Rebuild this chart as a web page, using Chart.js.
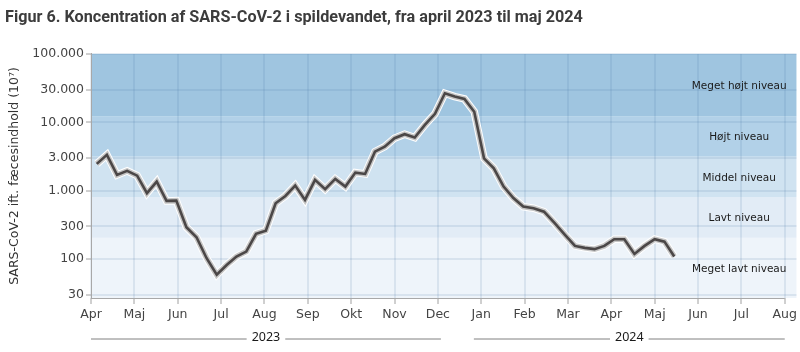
<!DOCTYPE html>
<html><head><meta charset="utf-8">
<script src="https://cdn.jsdelivr.net/npm/chart.js@4/dist/chart.umd.min.js"></script>
<style>html,body{margin:0;padding:0;background:#fff;}#wrap{width:800px;height:352px;}</style>
</head><body><div id="wrap"><canvas id="c" width="800" height="352"></canvas></div>
<script>
const chartTitle = 'Figur 6. Koncentration af SARS-CoV-2 i spildevandet, fra april 2023 til maj 2024';
const yAxisTitle = 'SARS-CoV-2 ift. fæcesindhold (10⁷)';
const monthLabels = ['Apr','Maj','Jun','Jul','Aug','Sep','Okt','Nov','Dec','Jan','Feb','Mar','Apr','Maj','Jun','Jul','Aug'];
const yearLabels = ['2023','2024'];
const yTickValues = [30,100,300,1000,3000,10000,30000,100000];
const yTickLabels = ['30','100','300','1.000','3.000','10.000','30.000','100.000'];
const levelNames = ['Meget lavt niveau','Lavt niveau','Middel niveau','Højt niveau','Meget højt niveau'];
const levelBounds = [27,205,810,3150,12300,100000];
const sampleDates = ['2023-04-05','2023-04-12','2023-04-19','2023-04-26','2023-05-03','2023-05-10','2023-05-17','2023-05-24','2023-05-31',
 '2023-06-07','2023-06-14','2023-06-21','2023-06-28','2023-07-05','2023-07-12','2023-07-19','2023-07-26',
 '2023-08-02','2023-08-09','2023-08-16','2023-08-23','2023-08-30','2023-09-06','2023-09-13','2023-09-20','2023-09-27',
 '2023-10-04','2023-10-11','2023-10-18','2023-10-25','2023-11-01','2023-11-08','2023-11-15','2023-11-22','2023-11-29',
 '2023-12-06','2023-12-13','2023-12-20','2023-12-27','2024-01-03','2024-01-10','2024-01-17','2024-01-24','2024-01-31',
 '2024-02-07','2024-02-14','2024-02-21','2024-02-28','2024-03-06','2024-03-13','2024-03-20','2024-03-27',
 '2024-04-03','2024-04-10','2024-04-17','2024-04-24','2024-05-01','2024-05-08','2024-05-15'];
const concentration = [2470,3340,1700,1950,1660,920,1360,710,716,292,209,103,59,82,109,129,234,261,656,839,
 1190,733,1440,1050,1490,1150,1840,1760,3730,4410,5860,6700,5980,9160,13300,26600,23800,22000,14300,2970,
 2130,1150,780,586,555,494,338,226,156,146,140,156,195,195,119,156,196,180,109];

function monthPos(iso){
  const [y,m,d] = iso.split('-').map(Number);
  const dim = new Date(y, m, 0).getDate();
  return (y-2023)*12 + (m-4) + (d-1)/dim;
}
const points = sampleDates.map((d,i)=>({x:monthPos(d), y:concentration[i]}));

const FONT = '"DejaVu Sans", sans-serif';
const bandColors = ['#eef4fa','#e2ecf6','#d0e3f1','#b2d1e8','#9fc5e0'];

const bandsPlugin = {
  id:'bands',
  beforeDraw(chart){
    const {ctx, chartArea:{left,right,top,bottom}, scales:{y}} = chart;
    ctx.save();
    for(let i=0;i<levelNames.length;i++){
      const yt = Math.max(top, y.getPixelForValue(levelBounds[i+1]));
      const yb = i===0 ? bottom : Math.min(bottom, y.getPixelForValue(levelBounds[i]));
      ctx.fillStyle = bandColors[i];
      ctx.fillRect(left, yt, right-left, yb-yt);
    }
    ctx.restore();
  },
  afterDraw(chart){
    const {ctx, chartArea:{top,bottom}, scales:{x,y}} = chart;
    ctx.save();
    ctx.font = '10.5px ' + FONT;
    ctx.fillStyle = '#1a1a1a';
    ctx.textAlign = 'center';
    ctx.textBaseline = 'middle';
    const cx = x.getPixelForValue(14.95);
    for(let i=0;i<levelNames.length;i++){
      const yt = Math.max(top, y.getPixelForValue(levelBounds[i+1]));
      const yb = i===0 ? bottom : y.getPixelForValue(levelBounds[i]);
      ctx.fillText(levelNames[i], cx, (yt+yb)/2 + 1);
    }
    ctx.strokeStyle = '#a8a8a8';
    ctx.lineWidth = 1;
    ctx.beginPath();
    ctx.moveTo(x.getPixelForValue(0), bottom+0.5);
    ctx.lineTo(x.getPixelForValue(16), bottom+0.5);
    ctx.stroke();
    const spans = [[0,8.07],[8.83,16]];
    const yy = chart.height - 14.5;
    ctx.font = '12.5px "Noto Sans", sans-serif';
    ctx.fillStyle = '#1a1a1a';
    ctx.strokeStyle = '#808080';
    spans.forEach((s,k)=>{
      const x1 = x.getPixelForValue(s[0]), x2 = x.getPixelForValue(s[1]);
      const c = (x1+x2)/2;
      const tw = ctx.measureText(yearLabels[k]).width;
      ctx.beginPath();
      ctx.moveTo(x1, yy+1.5); ctx.lineTo(c - tw/2 - 5, yy+1.5);
      ctx.moveTo(c + tw/2 + 5, yy+1.5); ctx.lineTo(x2, yy+1.5);
      ctx.stroke();
      ctx.fillText(yearLabels[k], c, yy);
    });
    ctx.restore();
  }
};

new Chart(document.getElementById('c'), {
  type:'line',
  data:{datasets:[
    {data:points, borderColor:'#4b4747', borderWidth:2.6, pointRadius:0, tension:0, order:1},
    {data:points, borderColor:'rgba(150,150,150,0.55)', borderWidth:5.5, pointRadius:0, tension:0, order:2},
    {data:points, borderColor:'#ffffff', borderWidth:7.5, pointRadius:0, tension:0, order:3}
  ]},
  options:{
    responsive:false, animation:false, devicePixelRatio:1,
    layout:{padding:{left:5,right:3,top:0,bottom:0}},
    plugins:{
      legend:{display:false}, tooltip:{enabled:false},
      title:{display:true, text:chartTitle, align:'start', color:'#3c3c3c',
        font:{family:'Roboto, sans-serif', size:16.2, weight:'bold'}, padding:{top:8,bottom:26.5}}
    },
    scales:{
      x:{type:'linear', min:0, max:16.27,
        afterBuildTicks:s=>{ s.ticks = monthLabels.map((_,i)=>({value:i})); },
        afterFit:s=>{ s.height = 54; },
        ticks:{callback:v=>monthLabels[v], autoSkip:false, maxRotation:0, padding:3, color:'#444',
          font:{family:FONT, size:12.5}},
        grid:{color:'rgba(70,115,160,0.13)', lineWidth:2, tickLength:6, tickColor:'#a0a0a0', tickWidth:1},
        border:{display:false}
      },
      y:{type:'logarithmic', min:27, max:100000,
        afterBuildTicks:s=>{ s.ticks = yTickValues.map(v=>({value:v})); },
        afterFit:s=>{ s.width = 86; },
        ticks:{callback:v=>{const k=yTickValues.indexOf(v); return k>=0?yTickLabels[k]:'';}, padding:2, color:'#444',
          font:{family:FONT, size:12.5}},
        title:{display:true, text:yAxisTitle, color:'#333', font:{family:FONT, size:12.5}, padding:{top:2.5,bottom:0}},
        grid:{color:'rgba(70,115,160,0.13)', lineWidth:2, tickLength:5, tickColor:'#a0a0a0', tickWidth:1},
        border:{display:true, color:'#a8a8a8', width:1}
      }
    }
  },
  plugins:[bandsPlugin]
});
</script></body></html>
